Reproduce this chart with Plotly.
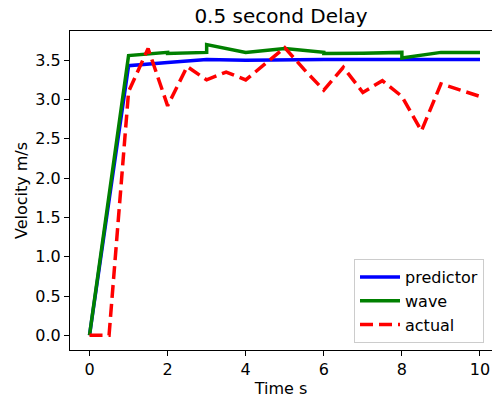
import plotly.graph_objects as go

# predictor (blue)
pred_t = [0, 1, 2, 3, 4, 5, 6, 7, 8, 9, 10]
pred_v = [0.0, 3.43, 3.47, 3.51, 3.50, 3.51, 3.51, 3.51, 3.51, 3.51, 3.51]

# wave (green) - steps at some integer times
wave_t = [0, 1, 2, 2, 3, 3, 4, 5, 6, 6, 7, 8, 8, 9, 10]
wave_v = [0.0, 3.56, 3.60, 3.585, 3.60, 3.70, 3.60, 3.65, 3.60, 3.585, 3.59, 3.60, 3.53, 3.60, 3.60]

# actual (red dashed)
act_t = [0, 0.5, 1, 1.5, 2, 2.5, 3, 3.5, 4, 4.5, 5, 5.5, 6, 6.5, 7, 7.5, 8, 8.5, 9, 9.5, 10]
act_v = [0.0, 0.0, 3.10, 3.65, 2.92, 3.42, 3.25, 3.35, 3.25, 3.45, 3.66, 3.38, 3.12, 3.41, 3.09, 3.24, 3.04, 2.60, 3.20, 3.12, 3.04]

y_ticks = [0.0, 0.5, 1.0, 1.5, 2.0, 2.5, 3.0, 3.5]
x_ticks = [0, 2, 4, 6, 8, 10]

FONT = "DejaVu Sans"

fig = go.Figure()
fig.add_trace(go.Scatter(x=pred_t, y=pred_v, mode="lines", name="predictor",
                         line=dict(color="#0000ff", width=3.5)))
fig.add_trace(go.Scatter(x=wave_t, y=wave_v, mode="lines", name="wave",
                         line=dict(color="#008000", width=3.5)))
fig.add_trace(go.Scatter(x=act_t, y=act_v, mode="lines", name="actual",
                         line=dict(color="#ff0000", width=3.5, dash="13px,6px")))

fig.update_layout(
    width=492, height=398,
    margin=dict(l=70, r=0, t=31, b=48),
    paper_bgcolor="white", plot_bgcolor="white",
    font=dict(family=FONT, size=16, color="black"),
    title=dict(text="0.5 second Delay", x=(70 + 492) / 2 / 492, xanchor="center",
               y=1 - 16 / 398, yanchor="middle",
               font=dict(family=FONT, size=20, color="black")),
    showlegend=True,
    legend=dict(x=0.673, y=0.285, xanchor="left", yanchor="top",
                bgcolor="rgba(255,255,255,0.8)", bordercolor="#cccccc", borderwidth=1,
                font=dict(family=FONT, size=16), tracegroupgap=0, itemwidth=40),
)
fig.update_xaxes(
    range=[-0.5, (492 - 90) / 39.0],
    tickmode="array", tickvals=x_ticks, ticktext=[str(v) for v in x_ticks],
    showgrid=False, zeroline=False,
    showline=True, linecolor="black", linewidth=1, mirror=True,
    ticks="outside", ticklen=5, tickcolor="black", tickwidth=1,
    title=dict(text="Time s", standoff=5, font=dict(family=FONT, size=16)),
)
fig.update_yaxes(
    range=[-0.187, 3.872],
    tickmode="array", tickvals=y_ticks, ticktext=[f"{v:.1f}" for v in y_ticks],
    showgrid=False, zeroline=False,
    showline=True, linecolor="black", linewidth=1, mirror=False,
    ticks="outside", ticklen=5, tickcolor="black", tickwidth=1,
    title=dict(text="Velocity m/s", standoff=3, font=dict(family=FONT, size=16)),
)

fig.write_html("out.html")
